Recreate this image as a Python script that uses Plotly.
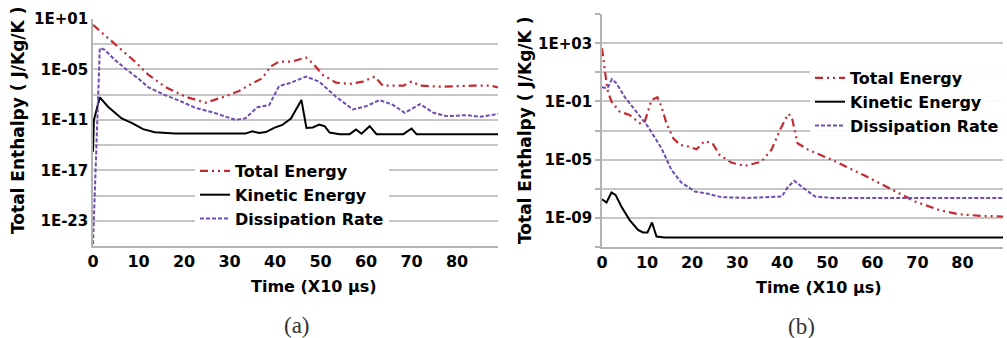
import numpy as np
import plotly.graph_objects as go

# ---------------- data (y as log10 of enthalpy) ----------------
# Panel (a)
a_total_t = [0, 3.3, 6.3, 9.2, 12.2, 15.8, 20.3, 24.7, 28.4, 32.1, 35.0, 37.2, 39.0, 40.9, 43.8,
             46.8, 48.3, 50.5, 53.4, 56.4, 59.3, 61.9, 63.7, 68.2, 70.0, 71.9, 76.3, 80.0, 83.6, 87.3, 89.0]
a_total_log = [0.3, -1.27, -2.67, -4.06, -5.65, -7.05, -8.24, -8.96, -8.32, -7.57, -6.65, -6.05, -4.66, -4.06, -4.06,
               -3.58, -4.26, -5.65, -6.57, -6.73, -6.45, -5.85, -6.93, -6.93, -6.45, -6.93, -7.05, -6.97, -6.93, -6.93, -7.13]

a_kin_t = [0, 0.2, 1.5, 3.3, 6.3, 8.5, 11.0, 13.6, 18.0, 24.7, 33.5, 35.0, 36.5, 38.0, 39.8, 41.6, 43.5, 45.8,
           46.9, 48.3, 49.7, 50.9, 52.0, 54.2, 56.4, 57.8, 59.0, 60.8, 62.3, 68.2, 70.0, 71.1, 89.0]
a_kin_log = [-14.8, -11.0, -8.32, -9.44, -10.83, -11.35, -12.1, -12.47, -12.63, -12.63, -12.63, -12.35, -12.55, -12.45,
             -11.95, -11.6, -10.83, -8.64, -11.95, -11.9, -11.55, -11.75, -12.5, -12.7, -12.7, -12.15, -12.65, -11.75,
             -12.7, -12.7, -12.03, -12.7, -12.7]

a_diss_t = [0, 1.5, 2.6, 4.8, 7.0, 9.9, 12.2, 15.8, 19.5, 22.5, 26.9, 31.3, 33.5, 36.1, 38.7, 40.9, 43.1, 46.8,
            49.7, 53.4, 57.1, 60.1, 63.0, 66.0, 68.5, 71.9, 74.8, 77.7, 82.2, 85.1, 89.0]
a_diss_log = [-25.8, -2.45, -2.67, -3.86, -4.86, -6.05, -7.13, -8.04, -8.84, -9.56, -10.2, -11.0, -10.8, -9.5, -9.24,
              -6.97, -6.65, -5.85, -6.45, -8.24, -9.76, -9.36, -8.64, -9.24, -10.16, -9.12, -10.16, -10.55, -10.43,
              -10.63, -10.3]

# Panel (b)
b_total_t = [0, 0.6, 1.2, 2.1, 3.9, 6.1, 8.4, 9.5, 11.0, 12.3, 13.2, 14.3, 15.8, 17.3, 19.1, 21.0, 22.8, 24.6,
             26.1, 28.7, 31.7, 35.4, 37.6, 39.7, 41.3, 42.1, 43.4, 45.8, 51.0, 58.4, 64.3, 69.5, 74.7, 79.1, 84.3, 89.0]
b_total_log = [2.66, 1.28, -0.2, -1.0, -1.7, -1.93, -2.5, -2.39, -0.89, -0.71, -1.35, -2.5, -3.53, -3.99, -4.1,
               -4.29, -3.72, -3.92, -4.68, -5.21, -5.44, -5.14, -4.33, -2.84, -1.86, -2.04, -3.88, -4.33, -5.02,
               -6.12, -7.09, -7.89, -8.46, -8.76, -8.88, -8.92]

b_kin_t = [0, 1.0, 2.1, 3.0, 4.3, 6.1, 8.0, 9.1, 10.1, 11.1, 12.1, 13.9, 89.0]
b_kin_log = [-7.73, -7.96, -7.27, -7.43, -8.23, -9.15, -9.84, -10.02, -10.02, -9.33, -10.3, -10.37, -10.37]

b_diss_t = [0, 1.2, 2.2, 3.2, 5.0, 7.3, 10.2, 13.2, 15.4, 17.6, 20.6, 23.6, 26.5, 32.4, 39.9, 41.3, 42.7, 44.3,
            47.3, 51.0, 89.0]
b_diss_log = [-0.02, -0.09, 0.53, 0.25, -0.67, -1.58, -2.73, -4.22, -5.71, -6.58, -7.2, -7.36, -7.59, -7.64, -7.55,
              -6.86, -6.47, -6.86, -7.55, -7.64, -7.64]

series_names = ["Total Energy", "Kinetic Energy", "Dissipation Rate"]
x_ticks = [0, 10, 20, 30, 40, 50, 60, 70, 80]

a_yticks_exp = [1, -2, -5, -8, -11, -14, -17, -20, -23, -26]
a_yticks_txt = ["1E+01", "", "1E-05", "", "1E-11", "", "1E-17", "", "1E-23", ""]
b_yticks_exp = [5, 3, 1, -1, -3, -5, -7, -9, -11]
b_yticks_txt = ["", "1E+03", "", "1E-01", "", "1E-05", "", "1E-09", ""]

# ---------------- styling ----------------
W, H = 1007, 338
RED = "#c42a31"
PURPLE = "#6e4db3"
BLACK = "#000000"
GRID = "#c6c6c6"
AXIS = "#b3b3b3"
FONT = "DejaVu Sans"

styles = [
    dict(color=RED, width=2.2, dash="8px,4px,2px,4px,2px,4px"),
    dict(color=BLACK, width=2.0),
    dict(color=PURPLE, width=2.0, dash="4px,2px"),
]

fig = go.Figure()

def add_panel(data, xa, ya, legend):
    for (t, lg), name, st in zip(data, series_names, styles):
        fig.add_trace(go.Scatter(
            x=t, y=np.power(10.0, lg), mode="lines", name=name, line=st,
            xaxis=xa, yaxis=ya, legend=legend, legendgroup=legend + name,
        ))

add_panel([(a_total_t, a_total_log), (a_kin_t, a_kin_log), (a_diss_t, a_diss_log)], "x", "y", "legend")
add_panel([(b_total_t, b_total_log), (b_kin_t, b_kin_log), (b_diss_t, b_diss_log)], "x2", "y2", "legend2")

def px_x(p):
    return p / W

def px_y(p):
    return 1 - p / H

tickfont = dict(family=FONT, size=16, color="black", weight="bold")
ytickfont = dict(family=FONT, size=15, color="black", weight="bold")

xcommon = dict(range=[0, 89], tickmode="array", tickvals=x_ticks, showgrid=False,
               showline=True, linecolor=AXIS, linewidth=1.5, ticks="", tickfont=tickfont,
               zeroline=False, automargin=False)

fig.update_layout(
    width=W, height=H, autosize=False,
    margin=dict(l=0, r=0, t=0, b=0),
    paper_bgcolor="white", plot_bgcolor="white",
    xaxis=dict(domain=[px_x(93), px_x(498)], anchor="y", **xcommon),
    xaxis2=dict(domain=[px_x(602), px_x(1003)], anchor="y2", **xcommon),
    yaxis=dict(domain=[px_y(246), px_y(19)], anchor="x", type="log", range=[-26, 1],
               tickmode="array", tickvals=[10.0 ** e for e in a_yticks_exp], ticktext=a_yticks_txt,
               showgrid=True, gridcolor=GRID, gridwidth=1.5, showline=True, linecolor=AXIS,
               linewidth=1.5, ticks="", tickfont=ytickfont, zeroline=False, automargin=False),
    yaxis2=dict(domain=[px_y(246.7), px_y(14.3)], anchor="x2", type="log", range=[-11, 5],
                tickmode="array", tickvals=[10.0 ** e for e in b_yticks_exp], ticktext=b_yticks_txt,
                showgrid=True, gridcolor=GRID, gridwidth=1.5, showline=True, linecolor=AXIS,
                linewidth=1.5, ticks="outside", ticklen=5, tickcolor=AXIS, tickwidth=1.5,
                tickfont=ytickfont, zeroline=False, automargin=False),
    legend=dict(x=px_x(195), y=px_y(154), xanchor="left", yanchor="top", bgcolor="white",
                font=dict(family=FONT, size=16, color="black", weight="bold"),
                tracegroupgap=0, borderwidth=0),
    legend2=dict(x=px_x(810), y=px_y(61), xanchor="left", yanchor="top", bgcolor="rgba(255,255,255,0.9)",
                 font=dict(family=FONT, size=16, color="black", weight="bold"),
                 tracegroupgap=0, borderwidth=0),
    showlegend=True,
)

annos = [
    dict(text="Total Enthalpy ( J/Kg/K )", x=px_x(18), y=px_y(121), textangle=-90,
         font=dict(family=FONT, size=17, color="black", weight="bold")),
    dict(text="Total Enthalpy ( J/Kg/K )", x=px_x(525), y=px_y(131), textangle=-90,
         font=dict(family=FONT, size=17, color="black", weight="bold")),
    dict(text="Time (X10 μs)", x=px_x(314), y=px_y(286),
         font=dict(family=FONT, size=16, color="black", weight="bold")),
    dict(text="Time (X10 μs)", x=px_x(819), y=px_y(287),
         font=dict(family=FONT, size=16, color="black", weight="bold")),
    dict(text="(a)", x=px_x(297), y=px_y(325),
         font=dict(family="Liberation Serif", size=23, color="#333333")),
    dict(text="(b)", x=px_x(801), y=px_y(326),
         font=dict(family="Liberation Serif", size=23, color="#333333")),
]
for a in annos:
    fig.add_annotation(xref="paper", yref="paper", showarrow=False, xanchor="center", yanchor="middle", **a)

fig.write_html("out.html")
